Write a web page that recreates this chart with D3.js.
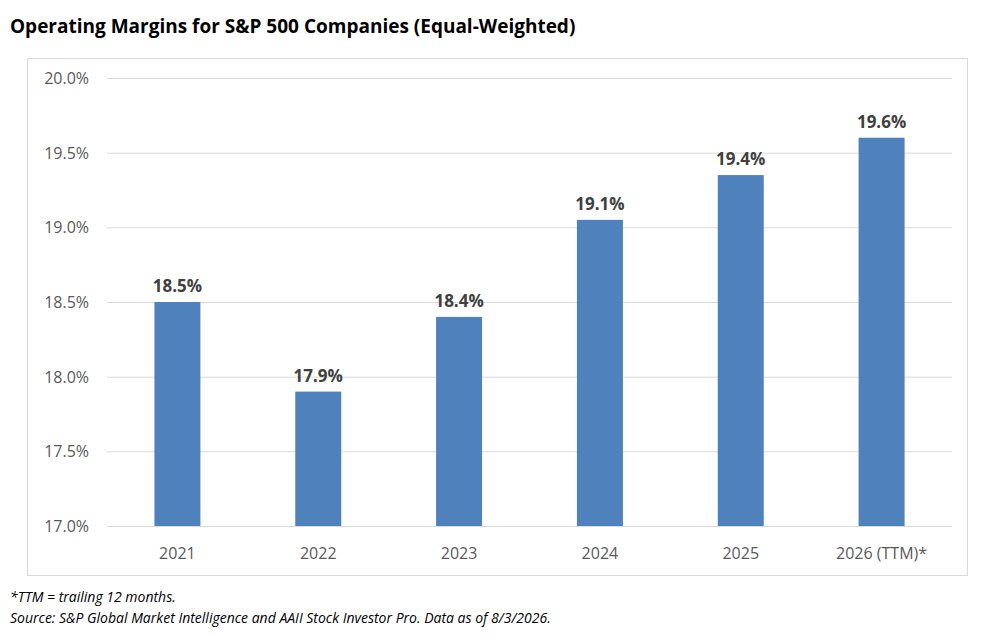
<!DOCTYPE html>
<html><head><meta charset="utf-8">
<script src="https://cdn.jsdelivr.net/npm/d3@7"></script>
<style>body{margin:0;background:#fff;font-family:"Open Sans",sans-serif;}</style>
</head><body><div id="chart"></div>
<script>
const categories = ["2021", "2022", "2023", "2024", "2025", "2026 (TTM)*"];
const values = [18.5, 17.9, 18.4, 19.05, 19.35, 19.6];
const labels = ["18.5%", "17.9%", "18.4%", "19.1%", "19.4%", "19.6%"];
const yTicks = [17.0, 17.5, 18.0, 18.5, 19.0, 19.5, 20.0];

const width = 984, height = 636;
const svg = d3.select("#chart").append("svg").attr("width", width).attr("height", height);

svg.append("text").attr("x", 10).attr("y", 33)
    .attr("font-size", 19).attr("font-weight", "bold").attr("fill", "#000")
    .text("Operating Margins for S&P 500 Companies (Equal-Weighted)");

svg.append("rect").attr("x", 27.5).attr("y", 58.5).attr("width", 940).attr("height", 517)
    .attr("fill", "none").attr("stroke", "#d9d9d9");

const x = d3.scaleBand().domain(categories).range([107, 952]);
const y = d3.scaleLinear().domain([17, 20]).range([526, 78]);

svg.append("g").selectAll("line").data(yTicks).enter().append("line")
    .attr("x1", 107).attr("x2", 952)
    .attr("y1", d => y(d) + 0.5).attr("y2", d => y(d) + 0.5)
    .attr("stroke", "#d9d9d9");

svg.append("g").selectAll("text").data(yTicks).enter().append("text")
    .attr("x", 89).attr("y", d => y(d) + 6).attr("text-anchor", "end")
    .attr("font-size", 16).attr("fill", "#595959")
    .text(d => d.toFixed(1) + "%");

const bw = 46;
svg.append("g").selectAll("rect").data(values).enter().append("rect")
    .attr("x", (d, i) => x(categories[i]) + x.bandwidth() / 2 - bw / 2)
    .attr("y", d => y(d)).attr("width", bw)
    .attr("height", d => y(17) - y(d))
    .attr("fill", "#4f81bd");

svg.append("g").selectAll("text").data(values).enter().append("text")
    .attr("x", (d, i) => x(categories[i]) + x.bandwidth() / 2)
    .attr("y", d => y(d) - 10).attr("text-anchor", "middle")
    .attr("font-size", 17).attr("font-weight", "bold").attr("fill", "#404040")
    .text((d, i) => labels[i]);

svg.append("g").selectAll("text").data(categories).enter().append("text")
    .attr("x", d => x(d) + x.bandwidth() / 2).attr("y", 559).attr("text-anchor", "middle")
    .attr("font-size", 16).attr("fill", "#595959")
    .text(d => d);

svg.append("text").attr("x", 10).attr("y", 602).attr("font-size", 14)
    .attr("font-style", "italic").attr("fill", "#000").text("*TTM = trailing 12 months.");
svg.append("text").attr("x", 10).attr("y", 623).attr("font-size", 14)
    .attr("font-style", "italic").attr("fill", "#000")
    .text("Source: S&P Global Market Intelligence and AAII Stock Investor Pro. Data as of 8/3/2026.");
</script></body></html>
